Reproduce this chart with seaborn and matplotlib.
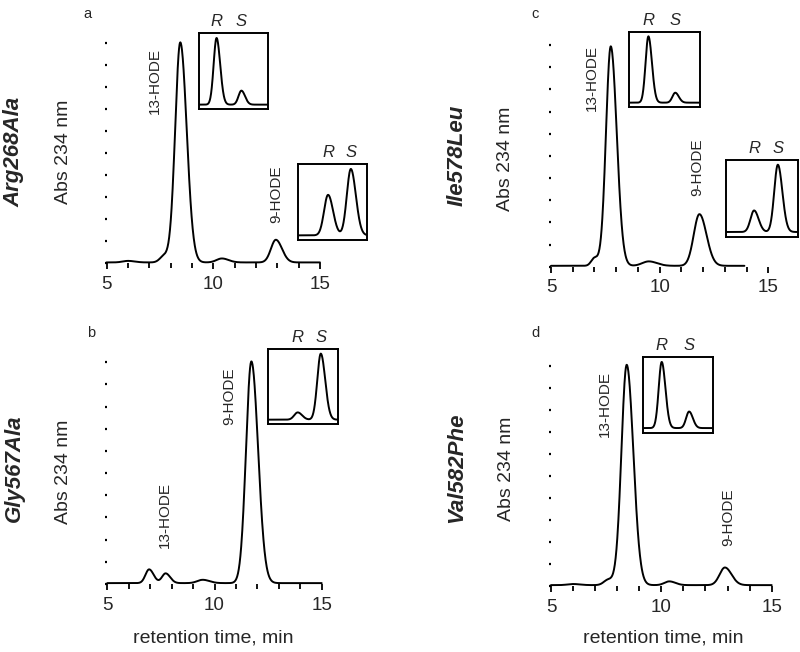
import numpy as np
import pandas as pd
import matplotlib
matplotlib.use("Agg")
import matplotlib.pyplot as plt
import seaborn as sns
from matplotlib.ticker import MultipleLocator

# mutants, one per panel
panels = ["a", "b", "c", "d"]
mutants = ["Arg268Ala", "Gly567Ala", "Ile578Leu", "Val582Phe"]

# peak tables: retention time (min), relative height, width (min)
peak_rt = {
    "a": [6.0, 7.7, 8.45, 10.4, 12.93],
    "b": [6.95, 7.72, 9.45, 11.72],
    "c": [7.0, 7.75, 9.5, 11.83],
    "d": [6.0, 7.6, 8.43, 10.36, 12.88],
}
peak_height = {
    "a": [0.007, 0.03, 1.0, 0.018, 0.103],
    "b": [0.062, 0.044, 0.015, 1.0],
    "c": [0.035, 0.99, 0.02, 0.233],
    "d": [0.005, 0.025, 1.0, 0.017, 0.08],
}
peak_width = {
    "a": [0.25, 0.2, 0.24, 0.25, 0.23],
    "b": [0.17, 0.17, 0.25, 0.25],
    "c": [0.15, 0.22, 0.3, 0.26],
    "d": [0.25, 0.2, 0.24, 0.22, 0.24],
}
run_end = {"a": 15.0, "b": 15.0, "c": 13.9, "d": 15.0}

# peak labels (text, retention time, height of label centre)
hode_labels = {
    "a": [("13-HODE", 7.26, 0.83), ("9-HODE", 12.94, 0.315)],
    "b": [("9-HODE", 10.71, 0.845), ("13-HODE", 7.69, 0.31)],
    "c": [("13-HODE", 6.87, 0.85), ("9-HODE", 11.74, 0.45)],
    "d": [("13-HODE", 7.45, 0.825), ("9-HODE", 13.03, 0.31)],
}

# chiral-phase insets: relative position and height of R and S enantiomers
inset_panel = ["a", "a", "b", "c", "c", "d"]
inset_R_pos = [0.25, 0.44, 0.42, 0.27, 0.39, 0.265]
inset_S_pos = [0.61, 0.77, 0.75, 0.65, 0.72, 0.66]
inset_R_h = [1.0, 0.61, 0.11, 1.0, 0.32, 1.0]
inset_S_h = [0.21, 1.0, 1.0, 0.15, 1.0, 0.25]
inset_w = [0.042, 0.058, 0.05, 0.04, 0.05, 0.043]

TAIL = 1.25


def trace(t, rts, hs, ws):
    y = np.zeros_like(t)
    for rt, h, w in zip(rts, hs, ws):
        s = np.where(t < rt, w, w * TAIL)
        y += h * np.exp(-(t - rt) ** 2 / (2 * s ** 2))
    return y


W, H = 800, 652
sns.set_theme(style="ticks")
plt.rcParams["font.family"] = ["Liberation Sans", "DejaVu Sans"]
fig = plt.figure(figsize=(W / 100, H / 100), dpi=100)


def fbox(x0, x1, ytop, ybot):
    # pixel box -> figure fraction
    return [x0 / W, 1 - ybot / H, (x1 - x0) / W, (ybot - ytop) / H]


# main axes boxes in pixels: x of 5 min, x of 15 min, y of 1.0, y of 0
main_px = {
    "a": (106.7, 320.0, 43.3, 263.3),
    "b": (107.3, 321.7, 362.3, 584.0),
    "c": (551.0, 768.3, 45.0, 266.7),
    "d": (551.0, 771.7, 365.7, 586.0),
}
inset_px = [
    (199.3, 268.3, 33.3, 109.3),
    (297.7, 366.7, 164.3, 240.0),
    (268.3, 338.3, 349.0, 424.3),
    (629.3, 700.0, 31.7, 107.3),
    (726.0, 798.0, 160.0, 236.7),
    (643.3, 712.7, 357.3, 432.7),
]

for p, mut in zip(panels, mutants):
    ax = fig.add_axes(fbox(*main_px[p]))
    t = np.linspace(5, run_end[p], 800)
    y = trace(t, peak_rt[p], peak_height[p], peak_width[p]) + 0.004
    sns.lineplot(x=t, y=y, ax=ax, color="black", lw=1.4, clip_on=False)
    ax.set_xlim(5, 15)
    ax.set_ylim(0, 1)
    for s in ax.spines.values():
        s.set_visible(False)
    ax.xaxis.set_major_locator(MultipleLocator(5))
    ax.xaxis.set_minor_locator(MultipleLocator(1))
    ax.yaxis.set_major_locator(MultipleLocator(0.1))
    ax.set_yticklabels([])
    ax.tick_params(axis="x", which="major", length=4, width=1.3, direction="out",
                   pad=5, labelsize=13.5, color="black")
    ax.tick_params(axis="x", which="minor", length=3.5, width=1.3, direction="out",
                   color="black")
    ax.tick_params(axis="y", which="major", length=1.5, width=1.6, direction="out",
                   color="black")
    ax.set_xlabel("")
    ax.set_ylabel("")
    for txt, xr, yr in hode_labels[p]:
        ax.text(xr, yr, txt, rotation=90, ha="center", va="center", fontsize=11)

for i, p in enumerate(inset_panel):
    ax = fig.add_axes(fbox(*inset_px[i]))
    u = np.linspace(0, 1, 400)
    y = trace(u, [inset_R_pos[i], inset_S_pos[i]], [inset_R_h[i], inset_S_h[i]],
              [inset_w[i], inset_w[i]])
    sns.lineplot(x=u, y=y, ax=ax, color="black", lw=1.4)
    ax.set_xlim(0, 1)
    ax.set_ylim(-0.07, 1.07)
    ax.set_xticks([])
    ax.set_yticks([])
    ax.set_xlabel("")
    ax.set_ylabel("")
    for s in ax.spines.values():
        s.set_visible(True)
        s.set_color("black")
        s.set_linewidth(1.4)
    for lab, xp in (("R", inset_R_pos[i]), ("S", inset_S_pos[i])):
        ax.annotate(lab, (xp, 1.0), xycoords=("data", "axes fraction"),
                    xytext=(0, 3), textcoords="offset points",
                    ha="center", va="bottom", fontsize=12, style="italic")

# side labels
side_px = {
    "a": (14, 151.7, 63.3, 151.7, 87.3, 14),
    "b": (14, 468.3, 63.3, 471.7, 90.7, 333.3),
    "c": (456.7, 155, 505, 159, 535, 14),
    "d": (456.7, 467.5, 506.7, 469.2, 535, 333.3),
}
for p, mut in zip(panels, mutants):
    mx, my, ax_, ay, lx, ly = side_px[p]
    fig.text(mx / W, 1 - my / H, mut, rotation=90, ha="center", va="center",
             fontsize=16, fontweight="bold", style="italic")
    fig.text(ax_ / W, 1 - ay / H, "Abs 234 nm", rotation=90, ha="center",
             va="center", fontsize=14)
    fig.text(lx / W, 1 - ly / H, p, ha="center", va="center", fontsize=10.5)

for x in (213.0, 663.3):
    fig.text(x / W, 1 - 638.3 / H, "retention time, min", ha="center",
             va="center", fontsize=14)

fig.savefig("out.png", dpi=100)
